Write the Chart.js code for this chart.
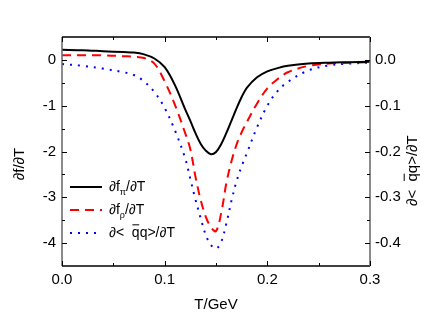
<!DOCTYPE html>
<html>
<head>
<meta charset="utf-8">
<script src="https://cdn.jsdelivr.net/npm/chart.js@4.4.1/dist/chart.umd.min.js"></script>
<style>
    html, body { margin: 0; padding: 0; background: #fff; }
    #wrap { width: 432px; height: 319px; }
</style>
</head>
<body>
<div id="wrap"><canvas id="chart" width="432" height="319"></canvas></div>
<script>
// Temperature grid (GeV)
const temps = [0, 0.02, 0.04, 0.06, 0.07, 0.08, 0.09, 0.10, 0.11, 0.12, 0.125, 0.13, 0.135, 0.14,
    0.145, 0.15, 0.155, 0.16, 0.165, 0.17, 0.175, 0.18, 0.19, 0.20, 0.21, 0.22, 0.24, 0.26, 0.28, 0.30];

// d f_pi / dT  (left axis)
const dfPi = [0.22, 0.21, 0.19, 0.17, 0.16, 0.12, 0.03, -0.16, -0.55, -1.08, -1.33, -1.60, -1.83, -1.98,
    -2.06, -2.01, -1.84, -1.60, -1.33, -1.06, -0.81, -0.61, -0.38, -0.25, -0.18, -0.13, -0.08, -0.06, -0.05, -0.04];

// d f_rho / dT  (left axis)
const dfRho = [0.10, 0.10, 0.10, 0.08, 0.07, 0.04, -0.08, -0.47, -0.98, -1.60, -1.95, -2.55, -3.05, -3.42,
    -3.65, -3.74, -3.35, -2.70, -2.22, -1.85, -1.58, -1.36, -0.95, -0.62, -0.42, -0.27, -0.13, -0.08, -0.06, -0.05];

// d<qq>/dT  (right axis)
const dQQ = [-0.009, -0.013, -0.019, -0.027, -0.033, -0.047, -0.070, -0.105, -0.154, -0.215, -0.260, -0.305, -0.345, -0.382,
    -0.404, -0.412, -0.398, -0.358, -0.308, -0.265, -0.232, -0.204, -0.147, -0.100, -0.068, -0.048, -0.023, -0.012, -0.008, -0.006];

const xTicks = [0, 0.1, 0.2, 0.3];
const xMinor = [0.05, 0.15, 0.25];
const leftTicks = [0, -1, -2, -3, -4];
const leftMinor = [-0.5, -1.5, -2.5, -3.5];
const rightTicks = [0, -0.1, -0.2, -0.3, -0.4];
const rightMinor = [-0.05, -0.15, -0.25, -0.35];

const FONT = "'Liberation Sans', Arial, sans-serif";

function pts(values) {
    return temps.map((t, i) => ({ x: t, y: values[i] }));
}

// Text "∂< q̄q>/∂T" with a bar over the first q
function drawQQ(ctx, x, y, size) {
    ctx.font = size + 'px ' + FONT;
    ctx.textAlign = 'left';
    ctx.textBaseline = 'middle';
    const pre = '\u2202<  ';
    ctx.fillText(pre, x, y);
    const w0 = ctx.measureText(pre).width;
    const wq = ctx.measureText('q').width;
    ctx.fillText('qq>/\u2202T', x + w0, y);
    ctx.fillRect(x + w0 + 0.5, y - size * 0.62, wq - 1, 1);
}

// Text "∂f_sub/∂T"
function drawSub(ctx, x, y, size, sub) {
    ctx.font = size + 'px ' + FONT;
    ctx.textAlign = 'left';
    ctx.textBaseline = 'middle';
    ctx.fillText('\u2202f', x, y);
    let cx = x + ctx.measureText('\u2202f').width;
    ctx.font = Math.round(size * 0.65) + 'px ' + FONT;
    ctx.fillText(sub, cx, y + size * 0.4);
    cx += ctx.measureText(sub).width;
    ctx.font = size + 'px ' + FONT;
    ctx.fillText('/\u2202T', cx, y);
}

const framePlugin = {
    id: 'frame',
    afterDraw(chart) {
        const ctx = chart.ctx;
        const a = chart.chartArea;
        const sx = chart.scales.x, sl = chart.scales.y, sr = chart.scales.y1;
        ctx.save();

        // frame
        ctx.lineWidth = 1.5;
        ctx.strokeStyle = '#000';
        ctx.beginPath();
        ctx.moveTo(a.left, a.top); ctx.lineTo(a.right, a.top);
        ctx.moveTo(a.left, a.bottom); ctx.lineTo(a.right, a.bottom);
        ctx.stroke();
        ctx.strokeStyle = '#666';
        ctx.beginPath();
        ctx.moveTo(a.left, a.top); ctx.lineTo(a.left, a.bottom);
        ctx.moveTo(a.right, a.top); ctx.lineTo(a.right, a.bottom);
        ctx.stroke();

        // inward ticks
        ctx.lineWidth = 1;
        ctx.strokeStyle = '#000';
        ctx.beginPath();
        const xt = (vals, len) => vals.forEach(v => {
            const px = Math.round(sx.getPixelForValue(v)) + 0.5;
            ctx.moveTo(px, a.bottom); ctx.lineTo(px, a.bottom - len);
            ctx.moveTo(px, a.top); ctx.lineTo(px, a.top + len);
        });
        xt(xTicks, 5); xt(xMinor, 3);
        const lt = (vals, len) => vals.forEach(v => {
            const py = Math.round(sl.getPixelForValue(v)) + 0.5;
            ctx.moveTo(a.left, py); ctx.lineTo(a.left + len, py);
        });
        lt(leftTicks, 5); lt(leftMinor, 3);
        const rt = (vals, len) => vals.forEach(v => {
            const py = Math.round(sr.getPixelForValue(v)) + 0.5;
            ctx.moveTo(a.right, py); ctx.lineTo(a.right - len, py);
        });
        rt(rightTicks, 5); rt(rightMinor, 3);
        ctx.stroke();

        // axis titles
        ctx.fillStyle = '#000';
        ctx.font = '15px ' + FONT;
        ctx.textAlign = 'center';
        ctx.textBaseline = 'middle';
        ctx.fillText('T/GeV', (a.left + a.right) / 2, 305);

        ctx.save();
        ctx.translate(20, 164);
        ctx.rotate(-Math.PI / 2);
        ctx.fillText('\u2202f/\u2202T', 0, 0);
        ctx.restore();

        ctx.save();
        ctx.translate(413, 166);
        ctx.rotate(-Math.PI / 2);
        drawQQ(ctx, -40, 0, 15);
        ctx.restore();

        // legend
        const rows = [
            { y: 187, color: '#000', dash: [], draw: (x, y) => drawSub(ctx, x, y, 14, '\u03c0') },
            { y: 210, color: '#ff0000', dash: [9, 6], draw: (x, y) => drawSub(ctx, x, y, 14, '\u03c1') },
            { y: 233, color: '#0000ff', dash: [2, 6], draw: (x, y) => drawQQ(ctx, x, y, 14) }
        ];
        rows.forEach(r => {
            ctx.strokeStyle = r.color;
            ctx.lineWidth = 2;
            ctx.setLineDash(r.dash);
            ctx.beginPath();
            ctx.moveTo(70, r.y); ctx.lineTo(102, r.y);
            ctx.stroke();
            ctx.setLineDash([]);
            ctx.fillStyle = '#000';
            r.draw(109, r.y);
        });

        ctx.restore();
    }
};

new Chart(document.getElementById('chart').getContext('2d'), {
    type: 'line',
    data: {
        datasets: [
            {
                label: 'dfpi',
                data: pts(dfPi),
                yAxisID: 'y',
                borderColor: '#000',
                borderWidth: 2,
                pointRadius: 0,
                tension: 0.35
            },
            {
                label: 'dfrho',
                data: pts(dfRho),
                yAxisID: 'y',
                borderColor: '#ff0000',
                borderWidth: 2,
                borderDash: [9, 6],
                pointRadius: 0,
                tension: 0.35
            },
            {
                label: 'dqq',
                data: pts(dQQ),
                yAxisID: 'y1',
                borderColor: '#0000ff',
                borderWidth: 2,
                borderDash: [2, 6],
                pointRadius: 0,
                tension: 0.35
            }
        ]
    },
    options: {
        responsive: false,
        animation: false,
        layout: { padding: { top: 37, left: 0, right: 0, bottom: 0 } },
        plugins: {
            legend: { display: false },
            tooltip: { enabled: false }
        },
        scales: {
            x: {
                type: 'linear',
                min: 0,
                max: 0.3,
                afterBuildTicks: s => { s.ticks = xTicks.map(v => ({ value: v })); },
                afterFit: s => { s.height = 53; },
                grid: { display: false, drawTicks: false },
                border: { display: false },
                ticks: {
                    padding: 5,
                    color: '#000',
                    font: { family: FONT, size: 15 },
                    callback: v => v.toFixed(1)
                }
            },
            y: {
                position: 'left',
                min: -4.5,
                max: 0.5,
                afterBuildTicks: s => { s.ticks = leftTicks.map(v => ({ value: v })); },
                afterFit: s => { s.width = 62; },
                grid: { display: false, drawTicks: false },
                border: { display: false },
                ticks: {
                    padding: 6,
                    color: '#000',
                    font: { family: FONT, size: 15 },
                    callback: v => String(v)
                }
            },
            y1: {
                position: 'right',
                min: -0.45,
                max: 0.05,
                afterBuildTicks: s => { s.ticks = rightTicks.map(v => ({ value: v })); },
                afterFit: s => { s.width = 62; },
                grid: { display: false, drawTicks: false },
                border: { display: false },
                ticks: {
                    padding: 5,
                    color: '#000',
                    font: { family: FONT, size: 15 },
                    callback: v => v.toFixed(1)
                }
            }
        }
    },
    plugins: [framePlugin]
});
</script>
</body>
</html>
